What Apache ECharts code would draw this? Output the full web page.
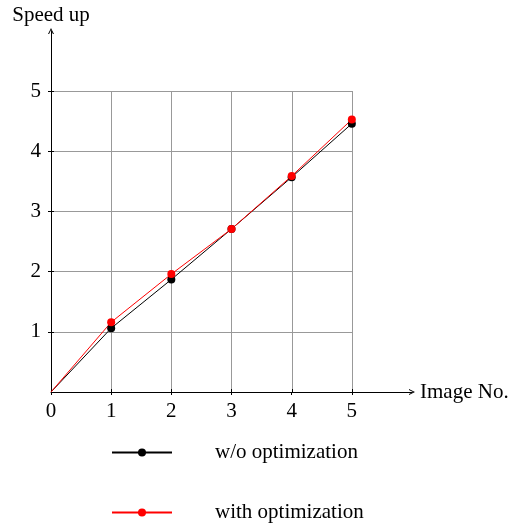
<!DOCTYPE html>
<html><head><meta charset="utf-8">
<script src="https://cdn.jsdelivr.net/npm/echarts@6/dist/echarts.min.js"></script>
<style>html,body{margin:0;padding:0;background:#fff}#c{width:513px;height:530px}</style>
</head><body><div id="c"></div>
<script>
const imageNo = [0, 1, 2, 3, 4, 5];
const woOptimization = [0, 1.06, 1.87, 2.71, 3.57, 4.46];
const withOptimization = [0, 1.16, 1.96, 2.71, 3.59, 4.53];
const xTicks = [0, 1, 2, 3, 4, 5];
const yTicks = [1, 2, 3, 4, 5];
const seriesNames = ['w/o optimization', 'with optimization'];

const FONT = 'Liberation Serif';
const FS = 21;
const arrow = 'path://M0,10 L5,0 L10,10 L8.2,10 L5,3.4 L1.8,10 Z';
const chart = echarts.init(document.getElementById('c'));
function pts(arr) {
  return imageNo.map((x, i) => x === 0 ? {value: [x, arr[i]], symbol: 'none'} : [x, arr[i]]);
}
function legendFor(name, top) {
  return {
    orient: 'horizontal', left: 106, top: top, itemWidth: 60, itemHeight: 10, itemGap: 0,
    data: [name],
    textStyle: {fontFamily: FONT, fontSize: FS, color: '#000', padding: [0, 0, 0, 38]}
  };
}
chart.setOption({
  animation: false,
  textStyle: {fontFamily: FONT},
  grid: [
    {left: 51, top: 91, width: 301, height: 301},
    {left: 51, top: 31, width: 361, height: 361}
  ],
  xAxis: [
    {gridIndex: 0, type: 'value', min: 0, max: 5, interval: 1,
     axisLine: {show: false}, axisLabel: {show: false},
     axisTick: {show: true, inside: true, length: 3, lineStyle: {color: '#000'}},
     splitLine: {show: true, lineStyle: {color: '#999', width: 1}}},
    {gridIndex: 1, type: 'value', min: 0, max: 6, interval: 1,
     name: 'Image No.', nameLocation: 'end', nameGap: 8,
     nameTextStyle: {fontFamily: FONT, fontSize: FS, color: '#000'},
     axisLine: {show: true, symbol: ['none', arrow], symbolSize: [9, 6], lineStyle: {color: '#000', width: 1}},
     axisTick: {show: true, length: 3, lineStyle: {color: '#000'}, customValues: xTicks},
     axisLabel: {fontFamily: FONT, fontSize: FS, color: '#000', margin: 9, customValues: xTicks},
     splitLine: {show: false}}
  ],
  yAxis: [
    {gridIndex: 0, type: 'value', min: 0, max: 5, interval: 1,
     axisLine: {show: false}, axisLabel: {show: false},
     axisTick: {show: true, inside: true, length: 3, lineStyle: {color: '#000'}},
     splitLine: {show: true, lineStyle: {color: '#999', width: 1}}},
    {gridIndex: 1, type: 'value', min: 0, max: 6, interval: 1,
     name: 'Speed up', nameLocation: 'end', nameGap: 5,
     nameTextStyle: {fontFamily: FONT, fontSize: FS, color: '#000'},
     axisLine: {show: true, symbol: ['none', arrow], symbolSize: [9, 6], lineStyle: {color: '#000', width: 1}},
     axisTick: {show: true, length: 3, lineStyle: {color: '#000'}, customValues: yTicks},
     axisLabel: {fontFamily: FONT, fontSize: FS, color: '#000', margin: 10, customValues: yTicks},
     splitLine: {show: false}}
  ],
  legend: [legendFor(seriesNames[0], 437), legendFor(seriesNames[1], 497)],
  series: [
    {name: seriesNames[0], type: 'line', xAxisIndex: 1, yAxisIndex: 1, data: pts(woOptimization),
     symbol: 'circle', symbolSize: 8, lineStyle: {color: '#000', width: 1}, itemStyle: {color: '#000'}},
    {name: seriesNames[1], type: 'line', xAxisIndex: 1, yAxisIndex: 1, data: pts(withOptimization),
     symbol: 'circle', symbolSize: 8, lineStyle: {color: '#f00', width: 1}, itemStyle: {color: '#f00'}}
  ]
});
</script></body></html>
